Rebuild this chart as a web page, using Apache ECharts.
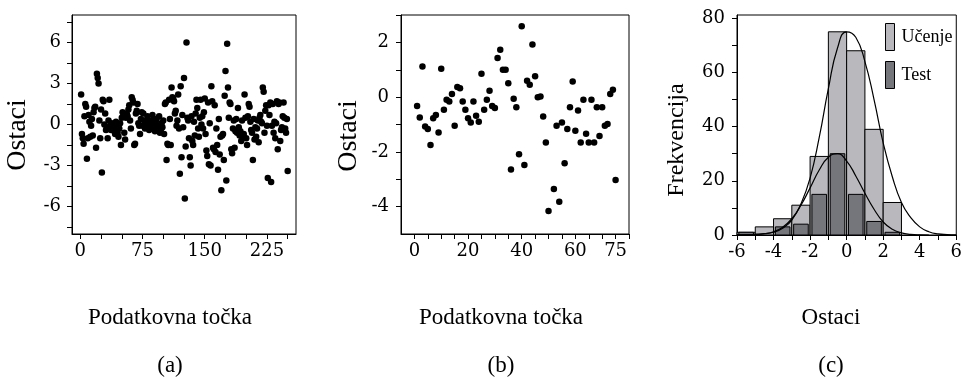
<!DOCTYPE html>
<html>
<head>
<meta charset="utf-8">
<script src="https://cdn.jsdelivr.net/npm/echarts@6/dist/echarts.min.js"></script>
<style>
  html, body { margin: 0; padding: 0; background: #fff; }
  #chart { width: 965px; height: 378px; }
</style>
</head>
<body>
<div id="chart"></div>
<script>
// (a) residuals of the training set, one per data point (index 1..250)
const trainResiduals = [
  2.2, -0.7, -1.0, -1.4, 0.6, 1.5, 1.3, -2.5, -1.0, 0.7, 0.2, -0.9, -0.1, 0.4, -0.8, 0.9, 1.2, 1.3, -1.7, 3.7, 3.4, 3.0, 0.3, -1.0, 1.1,
  -3.5, 1.8, 1.7, 0.0, 0.8, -0.4, -0.2, -1.0, 0.3, 1.8, -0.1, -0.4, 0.1, -0.3, 0.0, -0.5, -0.7, 0.2, -0.2, -0.6, -0.9, -0.3, 0.1, -1.5, 0.5,
  0.9, 0.7, -0.6, -1.1, 0.5, 0.8, 0.6, 1.1, 1.4, 0.3, -0.3, 2.0, 1.8, 1.6, -1.5, -1.4, 0.8, 1.0, 1.5, 0.1, -0.1, -0.7, 0.4, 0.9, -0.1,
  0.8, 0.3, -0.3, 0.0, -0.2, 0.6, 0.2, -0.4, 0.1, -0.1, 0.3, 0.7, -0.2, 0.0, -0.5, 0.2, 0.4, -0.3, -0.1, 0.6, -0.6, -0.4, 0.1, -0.2, 0.3,
  -0.7, 1.5, 1.6, -2.6, -1.4, -1.5, 1.8, 0.4, -1.5, 2.7, 2.0, 1.9, 1.7, 0.8, 1.0, -0.1, 0.3, 2.2, -0.3, -3.6, 2.8, -2.4, 0.7, -0.2, 3.4,
  -5.4, -1.6, 6.0, 0.5, 0.3, -1.0, -2.4, -3.0, 0.6, -1.2, -1.5, 0.2, -0.8, 0.8, 1.8, 1.2, -0.3, -0.9, 0.5, 1.8, 0.0, 0.6, -0.3, 0.9, 1.9,
  -0.7, -1.9, -2.3, 1.6, -2.9, 0.1, -3.0, 2.8, 1.7, -1.7, -1.8, 1.4, -2.0, -0.3, -1.5, -3.3, 0.4, -2.2, -0.9, -4.8, -0.8, -0.7, -2.6, 2.1, 3.9,
  -4.1, 5.9, 2.7, 0.5, 1.6, 1.5, -1.8, -2.1, -0.3, 0.3, -1.7, -0.5, 0.4, -0.6, 1.2, -0.2, -0.8, -0.5, -1.2, 0.3, -0.9, -0.7, 2.2, 0.5, -1.0,
  -1.5, 0.6, 1.5, 1.3, 0.2, -0.4, -0.6, -2.6, 0.4, -1.1, -0.2, -0.9, -0.3, 0.3, -1.3, 0.5, 0.7, 0.2, 0.1, 2.7, 2.4, -0.6, 1.0, 1.4, -0.1,
  -3.9, 1.4, 0.7, 1.6, -4.2, -0.1, 1.5, -0.6, 0.2, -1.0, 0.1, 1.7, -1.8, 1.5, 1.6, -1.2, -0.4, -0.2, 0.6, 1.6, 0.5, -0.3, -0.6, 0.4, -3.4
];

// (b) residuals of the test set
const testIndex = [
  1, 2, 3, 4, 5, 6, 7, 8, 9, 10, 11, 12, 13, 14, 15, 16, 17, 18, 19, 20, 21, 22, 23, 24, 25,
  26, 27, 28, 29, 30, 31, 32, 33, 34, 35, 36, 37, 38, 39, 40, 41, 42, 43, 44, 45, 46, 47, 48, 49, 50,
  52, 53, 54, 55, 56, 57, 58, 59, 60, 61, 62, 63, 64, 65, 66, 67, 68, 69, 70, 71, 72, 73, 74, 75
];
const testResiduals = [
  -0.32, -0.74, 1.12, -1.07, -1.16, -1.75, -0.77, -0.65, -1.29, 1.04, -0.46, -0.10, -0.16, 0.11, -1.05, 0.37, 0.32, -0.16, -0.46, -0.77, -0.93, -0.16, -0.68, -0.90, 0.85,
  -0.46, -0.10, 0.23, -0.32, -0.40, 1.43, 1.73, 1.00, 1.00, 0.51, -2.64, -0.06, -0.37, -2.09, 2.59, -2.48, 0.60, 0.45, 1.92, 0.76, 0.00, 0.02, -0.71, -1.66, -4.16,
  -3.36, -1.05, -3.82, -0.93, -2.42, -1.16, -0.37, 0.57, -1.23, -0.49, -1.66, -0.10, -1.34, -1.66, -0.10, -1.66, -0.37, -1.42, -0.37, -1.05, -0.98, 0.11, 0.27, -3.03
];

// (c) histogram of residuals: bins of width 1 starting at binStart
const binStart = [-6, -5, -4, -3, -2, -1, 0, 1, 2];
const trainCounts = [1, 3, 6, 11, 29, 75, 68, 39, 12];
const testCounts = [1, 0, 3, 4, 15, 30, 15, 5, 1];

// fitted density curves (scaled to counts)
const trainCurveX = [-6, -5.5, -5, -4.5, -4, -3.5, -3, -2.5, -2, -1.5, -1, -0.5, 0, 0.5, 1, 1.5, 2, 2.5, 3, 3.5, 4, 4.5, 5, 5.5, 6];
const trainCurveY = [0.05, 0.1, 0.2, 0.5, 1.0, 2.5, 5.5, 11.5, 21, 36, 54, 69, 75, 73, 64, 50, 34, 21.5, 12, 6.5, 3.0, 1.2, 0.4, 0.15, 0.05];
const testCurveX = [-6, -5.5, -5, -4.5, -4, -3.5, -3, -2.5, -2, -1.5, -1, -0.5, 0, 0.5, 1, 1.5, 2, 2.5, 3, 3.5, 4, 4.5];
const testCurveY = [0, 0.05, 0.2, 0.5, 1.2, 2.9, 6, 11, 17.4, 24, 28.7, 30, 27.3, 21.8, 15.4, 9.5, 4.8, 2.1, 0.8, 0.25, 0.05, 0];

// axis ticks and labels
const aXTicks = [0, 25, 50, 75, 100, 125, 150, 175, 200, 225, 250];
const aXLabels = [0, 75, 150, 225];
const aYTicks = [-7.5, -6, -4.5, -3, -1.5, 0, 1.5, 3, 4.5, 6, 7.5];
const aYLabels = [-6, -3, 0, 3, 6];
const bXTicks = [0, 5, 10, 15, 20, 25, 30, 35, 40, 45, 50, 55, 60, 65, 70, 75, 80];
const bXLabels = [0, 20, 40, 60, 75];
const bYTicks = [-4, -3, -2, -1, 0, 1, 2, 3];
const bYLabels = [-4, -2, 0, 2];
const cXTicks = [-6, -5, -4, -3, -2, -1, 0, 1, 2, 3, 4, 5, 6];
const cXLabels = [-6, -4, -2, 0, 2, 4, 6];
const cYTicks = [0, 10, 20, 30, 40, 50, 60, 70, 80];
const cYLabels = [0, 20, 40, 60, 80];

const NUM_FONT = 'DejaVu Serif';
const TXT_FONT = 'Liberation Serif';
const INK = '#000';
const LIGHT = '#b9b9bd';
const DARK = '#75757c';

function axis(gridIndex, min, max, ticks, labels, margin) {
  return {
    type: 'value', gridIndex, min, max,
    axisLine: { show: true, onZero: false, lineStyle: { color: INK, width: 1 } },
    axisTick: { show: true, length: 5, customValues: ticks, lineStyle: { color: INK, width: 1 } },
    axisLabel: { customValues: labels, fontFamily: NUM_FONT, fontSize: 18, color: INK, margin },
    splitLine: { show: false }
  };
}

function histRect(inset) {
  return function (params, api) {
    const top = api.coord([api.value(0) + inset, api.value(1)]);
    const bot = api.coord([api.value(0) + 1 - inset, 0]);
    return {
      type: 'rect',
      shape: { x: top[0], y: top[1], width: bot[0] - top[0], height: bot[1] - top[1] },
      style: api.style({ stroke: INK, lineWidth: 1 })
    };
  };
}

function label(text, x, y, size, rotated) {
  return {
    type: 'text', x, y, rotation: rotated ? Math.PI / 2 : 0,
    style: { text, font: size + 'px "Liberation Serif"', fill: INK, align: 'center', verticalAlign: 'middle' }
  };
}

const chart = echarts.init(document.getElementById('chart'), null, { renderer: 'canvas' });

const gridBox = { show: true, borderColor: INK, borderWidth: 1, backgroundColor: 'transparent' };

chart.setOption({
  animation: false,
  grid: [
    Object.assign({ left: 72, top: 15, width: 224, height: 219 }, gridBox),
    Object.assign({ left: 401, top: 15, width: 228, height: 219 }, gridBox),
    Object.assign({ left: 737, top: 15, width: 225, height: 220 }, gridBox)
  ],
  xAxis: [
    axis(0, -10, 260, aXTicks, aXLabels, 8),
    axis(1, -5, 80, bXTicks, bXLabels, 8),
    axis(2, -6, 6, cXTicks, cXLabels, 8)
  ],
  yAxis: [
    axis(0, -8, 8, aYTicks, aYLabels, 11),
    axis(1, -5, 3, bYTicks, bYLabels, 12),
    axis(2, 0, 81.2, cYTicks, cYLabels, 12)
  ],
  legend: {
    left: 880, top: 18, orient: 'vertical',
    itemWidth: 9, itemHeight: 27, itemGap: 10,
    icon: 'rect',
    textStyle: { fontFamily: TXT_FONT, fontSize: 18, color: INK, padding: [0, 0, 0, 2] },
    data: [
      { name: 'Učenje', itemStyle: { color: LIGHT, borderColor: INK, borderWidth: 1 } },
      { name: 'Test', itemStyle: { color: DARK, borderColor: INK, borderWidth: 1 } }
    ]
  },
  graphic: [
    label('Ostaci', 18, 135, 28, true),
    label('Ostaci', 349, 136, 28, true),
    label('Frekvencija', 677, 140, 24, true),
    label('Podatkovna točka', 170, 318, 23),
    label('Podatkovna točka', 501, 318, 23),
    label('Ostaci', 831, 318, 23),
    label('(a)', 170, 366, 23),
    label('(b)', 501, 366, 23),
    label('(c)', 831, 366, 23)
  ],
  series: [
    {
      type: 'scatter', xAxisIndex: 0, yAxisIndex: 0, symbolSize: 6.5,
      itemStyle: { color: INK, opacity: 1 },
      data: trainResiduals.map((v, i) => [i + 1, v])
    },
    {
      type: 'scatter', xAxisIndex: 1, yAxisIndex: 1, symbolSize: 6.5,
      itemStyle: { color: INK, opacity: 1 },
      data: testIndex.map((x, i) => [x, testResiduals[i]])
    },
    {
      name: 'Učenje', type: 'custom', xAxisIndex: 2, yAxisIndex: 2,
      itemStyle: { color: LIGHT },
      renderItem: histRect(0),
      encode: { x: 0, y: 1 },
      data: binStart.map((b, i) => [b, trainCounts[i]]).filter(d => d[1] > 0)
    },
    {
      name: 'Test', type: 'custom', xAxisIndex: 2, yAxisIndex: 2,
      itemStyle: { color: DARK },
      renderItem: histRect(0.1),
      encode: { x: 0, y: 1 },
      data: binStart.map((b, i) => [b, testCounts[i]]).filter(d => d[1] > 0)
    },
    {
      type: 'line', xAxisIndex: 2, yAxisIndex: 2, smooth: true, showSymbol: false,
      lineStyle: { color: INK, width: 1.2 }, z: 5,
      data: trainCurveX.map((x, i) => [x, trainCurveY[i]])
    },
    {
      type: 'line', xAxisIndex: 2, yAxisIndex: 2, smooth: true, showSymbol: false,
      lineStyle: { color: INK, width: 1.2 }, z: 5,
      data: testCurveX.map((x, i) => [x, testCurveY[i]])
    }
  ]
});
</script>
</body>
</html>
